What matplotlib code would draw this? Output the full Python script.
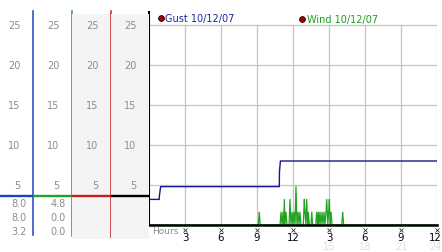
import matplotlib
matplotlib.use("Agg")
import matplotlib.pyplot as plt
from matplotlib.transforms import blended_transform_factory as blend, offset_copy
from matplotlib.patches import Rectangle

# ---------------- data ----------------
gust_hours = [0.0, 0.85, 0.86, 0.97, 10.86, 10.87, 10.95, 24.0]
gust_vals = [3.2, 3.2, 3.6, 4.8, 4.8, 6.6, 8.0, 8.0]

wind_hours = [0.00, 9.11, 9.19, 9.27,
              10.92, 11.00, 11.08, 11.17, 11.22, 11.28, 11.33, 11.42, 11.50,
              11.67, 11.75, 11.83, 11.92, 12.00, 12.08, 12.17, 12.25, 12.33,
              12.42, 12.50, 12.58, 12.67,
              12.86, 12.94, 13.00, 13.08, 13.14, 13.22, 13.28, 13.36, 13.50,
              13.56, 13.64,
              13.90, 13.97, 14.05, 14.11, 14.17, 14.25, 14.33, 14.42, 14.50,
              14.58, 14.67, 14.75, 14.81, 14.90, 14.97, 15.03, 15.10, 15.17,
              15.25,
              16.06, 16.14, 16.22, 24.00]
wind_vals = [0, 0, 1.6, 0,
             0, 1.6, 0, 1.6, 0, 3.2, 0, 1.6, 0,
             0, 3.2, 0, 1.6, 0, 1.6, 0, 4.8, 0,
             1.6, 0, 1.6, 0,
             0, 3.2, 1.6, 0, 3.2, 0, 1.6, 0, 0,
             1.6, 0,
             0, 1.6, 0, 1.6, 0, 1.6, 0, 1.6, 0,
             1.6, 0, 1.6, 3.2, 0, 1.6, 3.2, 0, 1.6,
             0,
             0, 1.6, 0, 0]

series_names = ["Gust 10/12/07", "Wind 10/12/07"]
y_ticks = [5, 10, 15, 20, 25]
x_ticks = [3, 6, 9, 12, 15, 18, 21, 24]
x_tick_labels = ["3", "6", "9", "12", "3", "6", "9", "12"]
x_faint_ticks = [15, 18, 21, 24]
x_faint_labels = ["15", "18", "21", "24"]
cursor_level = 3.6
col1_values = ["8.0", "8.0", "3.2"]
col2_values = ["4.8", "0.0", "0.0"]

# ---------------- layout ----------------
W, H = 442, 253
fig = plt.figure(figsize=(W / 100, H / 100), dpi=100)
fig.patch.set_facecolor("white")

AX_L, AX_R, AX_T, AX_B = 149, 437, 13, 226
YMAX = (AX_B - AX_T) / 8.0
axh = (AX_B - AX_T)


def fy(py):
    return (AX_B - py) / axh


ax = fig.add_axes([AX_L / W, (H - AX_B) / H, (AX_R - AX_L) / W, axh / H])
ax.set_xlim(0, 24)
ax.set_ylim(0, YMAX)
ax.set_xticks([])
ax.set_yticks([])
for s in ["top", "right"]:
    ax.spines[s].set_visible(False)
ax.spines["left"].set_linewidth(1.5)
ax.spines["bottom"].set_linewidth(1.8)
ax.spines["left"].set_zorder(5)
ax.spines["bottom"].set_zorder(5)
ax.patch.set_alpha(0)

grid_c = "#c4c4c4"
for y in y_ticks:
    ax.plot([0, 24], [y, y], color=grid_c, lw=0.9, zorder=1)
for x in x_ticks:
    ax.plot([x, x], [0, 25], color=grid_c, lw=0.9, zorder=1)

ax.plot(wind_hours, wind_vals, color="#22a322", lw=0.9, zorder=3, clip_on=False)
ax.plot(gust_hours, gust_vals, color="#16168e", lw=1.0, zorder=4)

# legend-like labels
ax.plot([0.042], [fy(19)], "o", color="#a00000", mec="#300000", ms=4.2, mew=0.6,
        transform=ax.transAxes, clip_on=False, zorder=6)
ax.text(0.056, fy(19.3), series_names[0], color="#1a2a9a", fontsize=7,
        va="center", ha="left", transform=ax.transAxes)
ax.plot([0.531], [fy(20)], "o", color="#a00000", mec="#300000", ms=4.2, mew=0.6,
        transform=ax.transAxes, clip_on=False, zorder=6)
ax.text(0.547, fy(20.2), series_names[1], color="#1f9a1f", fontsize=7,
        va="center", ha="left", transform=ax.transAxes)

# tick marks
ty = blend(ax.transAxes, ax.transData)
ax.plot([-0.011] * len(y_ticks), y_ticks, "x", color="#333333", ms=2.6, mew=0.6,
        transform=ty, clip_on=False)
tx = blend(ax.transData, ax.transAxes)
ax.plot(x_ticks, [fy(230.5)] * len(x_ticks), "x", color="#333333", ms=2.6, mew=0.6,
        transform=tx, clip_on=False)
tx_last = offset_copy(tx, fig=fig, x=-1.5, y=0, units="dots")
for x, lab in zip(x_ticks, x_tick_labels):
    ax.text(x, fy(238.5), lab, ha="center", va="center", fontsize=7.3,
            color="black", transform=(tx_last if x == x_ticks[-1] else tx))
for x, lab in zip(x_faint_ticks, x_faint_labels):
    ax.text(x, fy(247), lab, ha="center", va="center", fontsize=7,
            color="#e0e0e0", transform=(tx_last if x == x_faint_ticks[-1] else tx))
ax.text(0.3, fy(232), "Hours", ha="left", va="center", fontsize=6.5,
        color="#8a8a8a", transform=tx)

# ---------------- left columns ----------------
col_edges = [0, 33, 72, 111, 149]
col_colors = ["#1a44c0", "#25a025", "#c42020", "black"]
col_bg = [None, None, "#f4f4f4", "#f4f4f4"]
line_ext = [(12, 236), (12, 237), (12, 238), None]
label_c = "#8c8c8c"
for i in range(4):
    x0, x1 = col_edges[i], col_edges[i + 1]
    w = x1 - x0
    cax = fig.add_axes([x0 / W, (H - AX_B) / H, w / W, axh / H])
    cax.set_xlim(0, 1)
    cax.set_ylim(0, YMAX)
    cax.axis("off")
    if col_bg[i]:
        cax.add_patch(Rectangle((0, fy(240)), 1, fy(15) - fy(240),
                                transform=cax.transAxes, color=col_bg[i],
                                clip_on=False, zorder=0, lw=0))
    if line_ext[i]:
        cax.plot([1, 1], [fy(line_ext[i][0]), fy(line_ext[i][1])],
                 color=col_colors[i], lw=1.1, transform=cax.transAxes,
                 clip_on=False, zorder=3)
    tb = blend(cax.transAxes, cax.transData)
    for y in y_ticks:
        cax.text(1 - 12.5 / w, y, str(y), ha="right", va="center",
                 fontsize=7, color=label_c, transform=tb)
    cax.plot([0, 1], [cursor_level, cursor_level], color=col_colors[i],
             lw=1.7, transform=tb, clip_on=False, zorder=4,
             solid_capstyle="butt")
    vals = col1_values if i == 0 else (col2_values if i == 1 else [])
    for py, v in zip([204, 218.3, 232.3], vals):
        cax.text(1 - 6.3 / w, fy(py), v, ha="right", va="center", fontsize=7,
                 color=label_c, transform=cax.transAxes)

fig.savefig("out.png", dpi=100)
